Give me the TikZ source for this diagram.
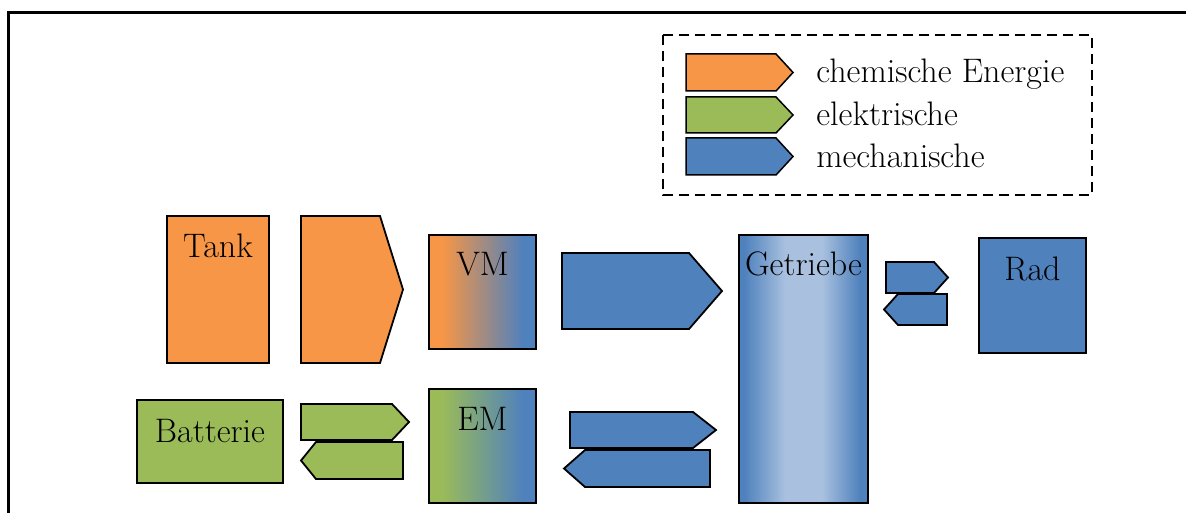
\documentclass[tikz,border=0pt]{standalone}
\usepackage{tikz}
\definecolor{chemorange}{HTML}{F79646}
\definecolor{elgreen}{HTML}{9BBB59}
\definecolor{mechblue}{HTML}{4F81BD}
\definecolor{mechlight}{HTML}{A9C1DF}
\pgfdeclarehorizontalshading{vmshade}{100bp}{color(0bp)=(chemorange); color(31bp)=(chemorange); color(69bp)=(mechblue); color(100bp)=(mechblue)}
\pgfdeclarehorizontalshading{emshade}{100bp}{color(0bp)=(elgreen); color(31bp)=(elgreen); color(69bp)=(mechblue); color(100bp)=(mechblue)}
\pgfdeclarehorizontalshading{gbshade}{100bp}{color(0bp)=(mechblue); color(27bp)=(mechblue); color(43bp)=(mechlight); color(57bp)=(mechlight); color(72bp)=(mechblue); color(100bp)=(mechblue)}
\tikzset{
    every node/.style={font=\fontsize{17}{20}\selectfont},
    block/.style={draw=black,line width=0.9pt,inner sep=0pt,anchor=base},
    flow/.style={draw=black,line width=0.9pt,line join=miter},
    legflow/.style={flow,line width=0.75pt},
    legtext/.style={inner sep=0pt,anchor=base west},
    frame/.style={draw=black,line width=1.3pt},
    legbox/.style={draw=black,line width=1pt,dash pattern=on 5pt off 3pt}
}
\begin{document}
\begin{tikzpicture}[x=0.5pt,y=-0.5pt]
    \useasboundingbox (0,0) rectangle (1186,513);
    % Rahmen
    \draw[frame] (8.5,513) -- (8.5,12.5) -- (1186,12.5);
    % Legende
    \draw[legbox] (663,35) rectangle (1092,195);
    \draw[legflow,fill=chemorange] (686,54) -- (776,54) -- (793,72.5) -- (776,91) -- (686,91) -- cycle;
    \draw[legflow,fill=elgreen] (686,97) -- (776,97) -- (793,115) -- (776,133) -- (686,133) -- cycle;
    \draw[legflow,fill=mechblue] (686,138) -- (776,138) -- (793,156.5) -- (776,175) -- (686,175) -- cycle;
    \node[legtext] (chem) at (816,83) {chemische Energie};
    \node[legtext] (elek) at (816,126) {elektrische};
    \node[legtext] (mech) at (816,168) {mechanische};
    % Bloecke
    \node[block,fill=chemorange,minimum width=51pt,text height=20.5pt,text depth=53pt] (tank) at (218,257) {Tank};
    \node[block,shading=vmshade,minimum width=53.5pt,text height=20pt,text depth=37pt] (vm) at (482.5,275) {VM};
    \node[block,shading=emshade,minimum width=53.5pt,text height=20.5pt,text depth=36.5pt] (em) at (482.5,430) {EM};
    \node[block,shading=gbshade,minimum width=64.5pt,text height=20pt,text depth=114pt] (getriebe) at (803.5,275) {Getriebe};
    \node[block,fill=mechblue,minimum width=53.5pt,text height=21pt,text depth=36.5pt] (rad) at (1032.5,280) {Rad};
    \node[block,fill=elgreen,minimum width=73pt,text height=21pt,text depth=20.5pt] (batterie) at (210,442) {Batterie};
    % Energiefluesse
    \draw[flow,fill=chemorange] (301,216) -- (380,216) -- (403,289.5) -- (380,363) -- (301,363) -- cycle;
    \draw[flow,fill=mechblue] (562,253) -- (689,253) -- (722,291) -- (689,329) -- (562,329) -- cycle;
    \draw[flow,fill=mechblue] (886,262) -- (934,262) -- (948,277.5) -- (934,293) -- (886,293) -- cycle;
    \draw[flow,fill=mechblue] (898,294) -- (947,294) -- (947,325) -- (898,325) -- (884,309.5) -- cycle;
    \draw[flow,fill=elgreen] (301,404) -- (392,404) -- (409,422) -- (392,440) -- (301,440) -- cycle;
    \draw[flow,fill=elgreen] (316,442) -- (403,442) -- (403,479) -- (316,479) -- (301,460.5) -- cycle;
    \draw[flow,fill=mechblue] (570,412) -- (693,412) -- (716,430) -- (693,448) -- (570,448) -- cycle;
    \draw[flow,fill=mechblue] (585,450) -- (710,450) -- (710,487) -- (585,487) -- (564,468.5) -- cycle;
\end{tikzpicture}
\end{document}
